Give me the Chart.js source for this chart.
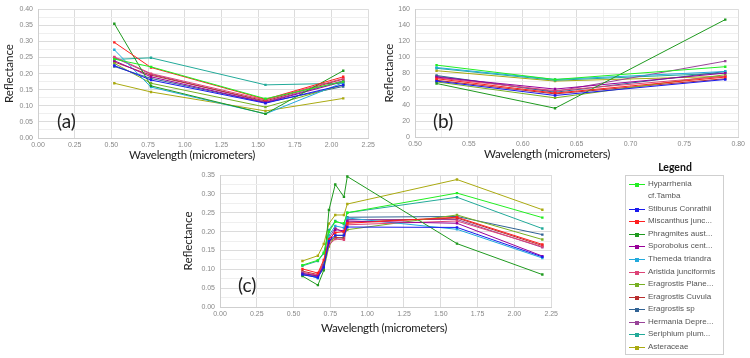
<!DOCTYPE html>
<html>
<head>
<meta charset="utf-8">
<script src="https://cdn.jsdelivr.net/npm/chart.js@4.4.1/dist/chart.umd.min.js"></script>
<style>
  html, body { margin:0; padding:0; background:#fff; }
  body { width:750px; height:358px; position:relative; overflow:hidden; }
  .cv { position:absolute; }
  .tag { position:absolute; font-family:Lato,'Liberation Sans',Arial,sans-serif; font-size:19px; color:#222; line-height:1; }
  .xt { position:absolute; font-family:Lato,'Liberation Sans',Arial,sans-serif; font-size:11.5px; letter-spacing:-0.25px; color:#222; line-height:1; white-space:nowrap; transform:translate(-50%,-50%); }
  #legendTitle { position:absolute; left:625px; width:100px; top:161px; text-align:center; font-family:Lato,'Liberation Sans',Arial,sans-serif; font-weight:bold; font-size:10.5px; color:#111; }
  #legendBox { position:absolute; left:625px; top:175px; width:99px; height:180px; border:1px solid #cfcfcf; box-sizing:border-box; }
  .item { position:absolute; left:3px; font-family:'Liberation Sans',Arial,sans-serif; font-size:8px; color:#555; line-height:11.5px; }
  .mk { position:absolute; left:0; width:16px; height:1px; }
  .dot { position:absolute; left:6px; top:-1.5px; width:4px; height:4px; }
  .txt { position:absolute; left:19px; white-space:nowrap; }
</style>
</head>
<body>
<canvas id="cA" class="cv" style="left:0px;top:0px"></canvas>
<canvas id="cB" class="cv" style="left:380px;top:0px"></canvas>
<canvas id="cC" class="cv" style="left:179px;top:165px"></canvas>
<div class="tag" style="left:57px;top:111px">(a)</div>
<div class="tag" style="left:433px;top:111px">(b)</div>
<div class="tag" style="left:238px;top:275px">(c)</div>
<div class="xt" id="xtA" style="left:192px;top:155px"></div>
<div class="xt" id="xtB" style="left:547px;top:154px"></div>
<div class="xt" id="xtC" style="left:384px;top:328px"></div>
<div id="legendTitle">Legend</div>
<div id="legendBox"></div>
<script>
// ---- data ----
const seriesNames = [
  "Hyparrhenia cf.Tamba", "Stiburus Conrathii", "Miscanthus junc...", "Phragmites aust...",
  "Sporobolus cent...", "Themeda triandra", "Aristida junciformis", "Eragrostis Plane...",
  "Eragrostis Cuvula", "Eragrostis sp", "Hermania Depre...", "Seriphium plum...", "Asteraceae"
];
const seriesColors = [
  "#22ee22", "#1a1aee", "#ff2020", "#1f9a1f", "#990099", "#22aadd", "#dd4477",
  "#77b023", "#b82e2e", "#316395", "#994499", "#22aa99", "#aaaa11"
];

const wavelengthA = [0.52, 0.77, 1.55, 2.08];
const reflectanceA = [
  [0.245, 0.221, 0.122, 0.175],
  [0.225, 0.180, 0.108, 0.165],
  [0.297, 0.219, 0.120, 0.190],
  [0.355, 0.162, 0.075, 0.209],
  [0.240, 0.190, 0.110, 0.175],
  [0.274, 0.158, 0.075, 0.172],
  [0.252, 0.200, 0.118, 0.185],
  [0.232, 0.170, 0.096, 0.165],
  [0.236, 0.195, 0.115, 0.183],
  [0.222, 0.185, 0.110, 0.160],
  [0.250, 0.198, 0.112, 0.178],
  [0.244, 0.249, 0.165, 0.170],
  [0.170, 0.143, 0.084, 0.123]
];

const wavelengthB = [0.52, 0.63, 0.788];
const reflectanceB = [
  [90, 72, 88],
  [70, 52, 72],
  [73, 55, 75],
  [67, 36, 147],
  [75, 60, 80],
  [87, 72, 82],
  [74, 58, 76],
  [69, 49, 78],
  [71, 54, 73],
  [77, 56, 82],
  [76, 57, 95],
  [86, 71, 80],
  [83, 70, 76]
];

const wavelengthC = [0.56, 0.665, 0.705, 0.74, 0.783, 0.842, 0.865, 1.61, 2.19];
const reflectanceC = [
  [0.111, 0.124, 0.144, 0.199, 0.226, 0.222, 0.250, 0.302, 0.237],
  [0.086, 0.078, 0.105, 0.175, 0.190, 0.190, 0.212, 0.211, 0.133],
  [0.101, 0.090, 0.125, 0.180, 0.197, 0.200, 0.222, 0.238, 0.166],
  [0.082, 0.058, 0.097, 0.257, 0.325, 0.292, 0.346, 0.168, 0.086],
  [0.089, 0.082, 0.110, 0.170, 0.205, 0.202, 0.228, 0.222, 0.135],
  [0.090, 0.076, 0.112, 0.190, 0.215, 0.210, 0.236, 0.206, 0.130],
  [0.092, 0.084, 0.115, 0.165, 0.180, 0.178, 0.218, 0.228, 0.160],
  [0.087, 0.082, 0.100, 0.160, 0.190, 0.190, 0.205, 0.244, 0.179],
  [0.095, 0.086, 0.118, 0.172, 0.185, 0.182, 0.225, 0.236, 0.163],
  [0.085, 0.080, 0.108, 0.178, 0.182, 0.185, 0.238, 0.240, 0.192],
  [0.088, 0.083, 0.112, 0.182, 0.210, 0.196, 0.232, 0.232, 0.158],
  [0.109, 0.122, 0.142, 0.204, 0.228, 0.219, 0.250, 0.291, 0.208],
  [0.122, 0.136, 0.167, 0.221, 0.244, 0.244, 0.273, 0.338, 0.258]
];

const xAxisTitle = "Wavelength (micrometers)";
const yAxisTitle = "Reflectance";

// ---- drawing ----
const titleFont = { family: "Lato,'Liberation Sans',Arial,sans-serif", size: 11.5 };
const tickFont = { family: "'Liberation Sans',Arial,sans-serif", size: 7 };

function isMult(v, step) { return Math.abs(Math.round(v / step) * step - v) < 1e-9; }

function makeChart(id, w, h, xs, ys, cfg) {
  const cv = document.getElementById(id);
  cv.width = w; cv.height = h; cv.style.width = w + 'px'; cv.style.height = h + 'px';
  const datasets = ys.map((vals, i) => ({
    label: seriesNames[i],
    data: vals.map((v, j) => ({ x: xs[j], y: v })),
    borderColor: seriesColors[i],
    backgroundColor: seriesColors[i],
    borderWidth: 1,
    pointStyle: 'rect',
    pointRadius: 1.7,
    pointBorderWidth: 0,
    tension: 0
  }));
  const axis = (a, isX) => ({
    type: 'linear',
    min: a.min, max: a.max,
    afterFit: s => { if (isX) s.height = a.size; else s.width = a.size; },
    ticks: {
      stepSize: a.minor || a.major,
      autoSkip: false,
      maxRotation: 0,
      padding: isX ? 3 : 5,
      font: tickFont,
      color: '#888',
      callback: v => isMult(v, a.major) ? v.toFixed(a.dec) : ''
    },
    grid: {
      drawTicks: false,
      color: c => isMult(c.tick.value, a.major) ? '#dcdcdc' : '#efefef',
      lineWidth: 1
    },
    border: { color: '#cfcfcf' },
    title: { display: !isX, text: yAxisTitle, font: titleFont, color: '#222', padding: { top: 2, bottom: 2 } }
  });
  return new Chart(cv, {
    type: 'line',
    data: { datasets },
    options: {
      responsive: false,
      animation: false,
      layout: { padding: cfg.padding },
      plugins: { legend: { display: false }, tooltip: { enabled: false } },
      scales: { x: axis(cfg.x, true), y: axis(cfg.y, false) }
    }
  });
}

makeChart('cA', 378, 164, wavelengthA, reflectanceA, {
  padding: { top: 6, right: 0, left: 0, bottom: 0 },
  x: { min: 0, max: 2.25, major: 0.25, dec: 2, size: 26 },
  y: { min: 0, max: 0.40, major: 0.05, minor: 0.025, dec: 2, size: 38 }
});
makeChart('cB', 368, 163, wavelengthB, reflectanceB, {
  padding: { top: 7, right: 0, left: 0, bottom: 0 },
  x: { min: 0.50, max: 0.80, major: 0.05, minor: 0.025, dec: 2, size: 26 },
  y: { min: 0, max: 160, major: 20, minor: 10, dec: 0, size: 35 }
});
makeChart('cC', 382, 172, wavelengthC, reflectanceC, {
  padding: { top: 10, right: 0, left: 0, bottom: 0 },
  x: { min: 0, max: 2.25, major: 0.25, dec: 2, size: 30 },
  y: { min: 0, max: 0.35, major: 0.05, minor: 0.025, dec: 2, size: 41 }
});
['xtA', 'xtB', 'xtC'].forEach(id => { document.getElementById(id).textContent = xAxisTitle; });

// ---- legend ----
const box = document.getElementById('legendBox');
const rowTops = [2, 27, 39, 52, 64, 77, 90, 102, 115, 127, 140, 152, 165];
seriesNames.forEach((name, i) => {
  const it = document.createElement('div');
  it.className = 'item';
  it.style.top = rowTops[i] + 'px';
  const txt = i === 0 ? 'Hyparrhenia<br>cf.Tamba' : name;
  it.innerHTML = '<div class="mk" style="top:6px;background:' + seriesColors[i] + '"><div class="dot" style="background:' + seriesColors[i] + '"></div></div><div class="txt">' + txt + '</div>';
  box.appendChild(it);
});
</script>
</body>
</html>
